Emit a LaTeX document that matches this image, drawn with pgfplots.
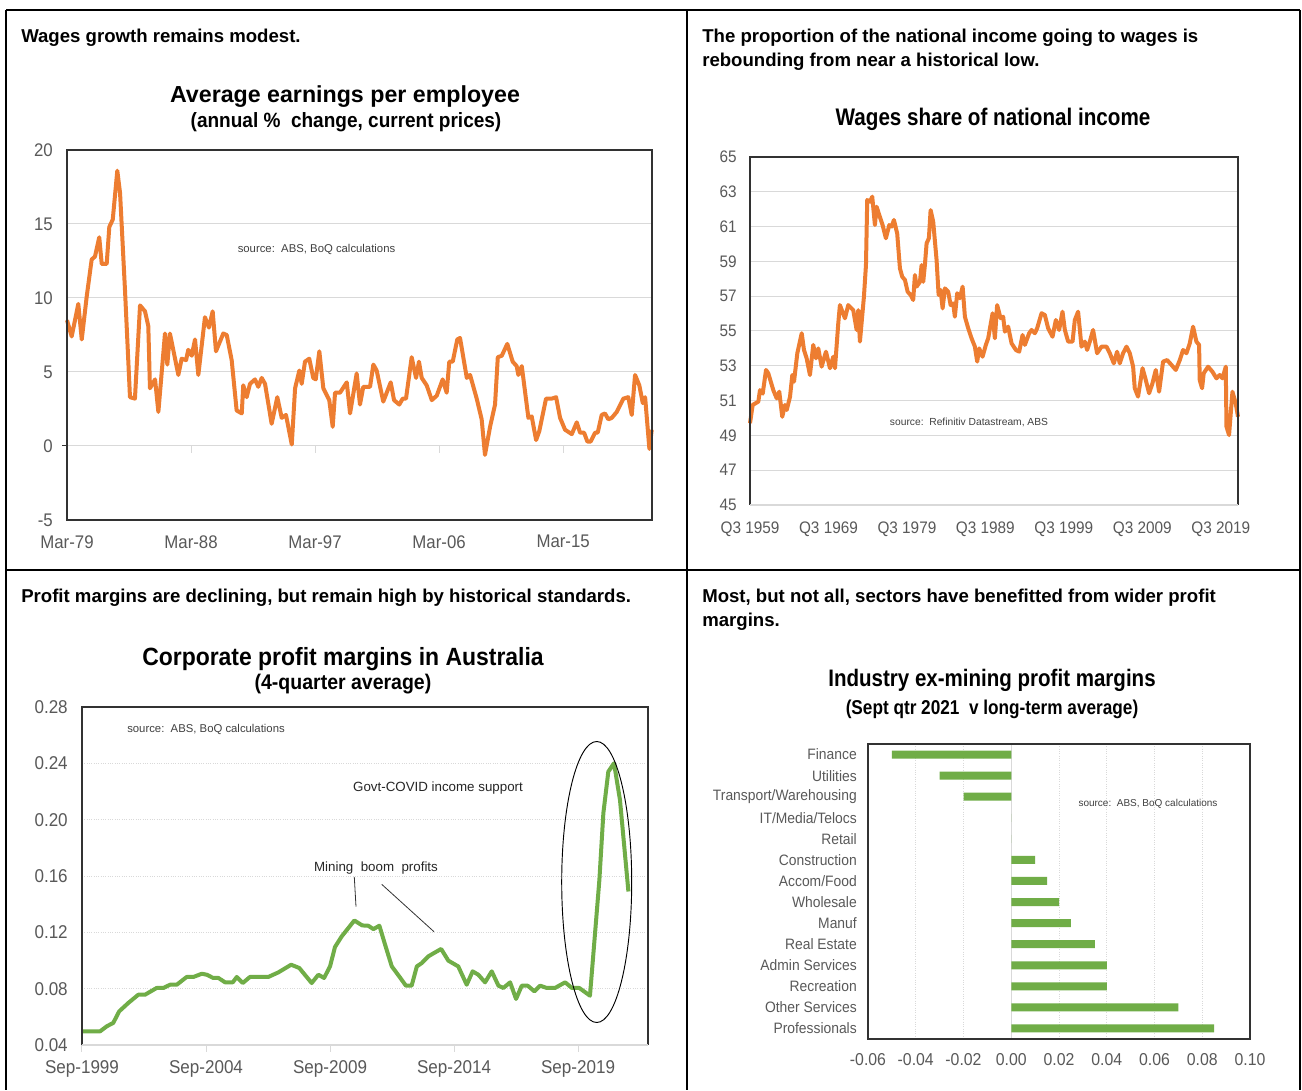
\documentclass[border=0pt]{standalone}
\usepackage{fontspec}
\setmainfont{Liberation Sans}
\newfontfamily\nA[FakeStretch=0.92]{Liberation Sans}
\newfontfamily\nB[FakeStretch=0.86]{Liberation Sans}
\usepackage{pgfplots}
\pgfplotsset{compat=1.18}
\definecolor{lineorange}{RGB}{237,125,49}
\definecolor{barsgreen}{RGB}{112,173,71}
\definecolor{tickgray}{RGB}{89,89,89}
\definecolor{gridgray}{RGB}{217,217,217}
\definecolor{boxdark}{RGB}{50,50,50}
\definecolor{srcgray}{RGB}{64,64,64}

\pgfplotsset{
  cell/.style={scale only axis, anchor=south west, clip=false,
    axis line style={draw=none}, tick style={draw=none},
    tick label style={text=tickgray, inner sep=0pt},
    major grid style={gridgray, line width=0.75pt}},
}

\begin{document}
\begin{tikzpicture}
\useasboundingbox (0,0) rectangle (976.5pt,817.5pt);
\fill[white] (0,0) rectangle (976.5pt,817.5pt);

% ---- top left: average earnings
\begin{axis}[cell, name=p1, at={(50.25pt,427.5pt)}, width=438.75pt, height=277.5pt,
  xmin=1979, xmax=2021.45, ymin=-5, ymax=20,
  xtick={1979,1988,1997,2006,2015}, xticklabels={Mar-79,Mar-88,Mar-97,Mar-06,Mar-15},
  ytick={-5,0,5,10,15,20}, yticklabels={-5,0,5,10,15,20},
  ymajorgrids,
  tick label style={font=\nA\fontsize{13.7}{15}\selectfont},
  xticklabel style={anchor=north, yshift=-11.25pt},
  yticklabel style={anchor=east, xshift=-10.5pt}]
\draw[gridgray, line width=0.75pt] (axis cs:1979,0) -- (axis cs:2021.45,0);
\pgfplotsinvokeforeach{1988,1997,2006,2015}{\draw[gridgray, line width=0.75pt] (axis cs:#1,0) -- ++(0pt,-5pt);}
\draw[boxdark, line width=0.75pt] (axis cs:1979,0) -- ++(-4pt,0pt);
\addplot[lineorange, line width=3pt, line join=round] coordinates {
(1979.0,8.5)(1979.34,7.4)(1979.82,9.6)(1980.07,7.2)(1980.43,10.1)(1980.79,12.6)
(1981.03,12.8)(1981.34,14.1)(1981.52,12.3)(1981.88,12.3)(1982.07,14.8)(1982.32,15.3)
(1982.65,18.6)(1982.85,17.1)(1983.21,10.5)(1983.57,3.3)(1983.93,3.2)(1984.30,9.5)
(1984.66,9.1)(1984.90,8.1)(1985.02,3.9)(1985.39,4.5)(1985.63,2.3)(1986.11,7.6)
(1986.28,5.5)(1986.47,7.6)(1986.71,6.5)(1987.08,4.8)(1987.32,5.9)(1987.64,5.8)
(1987.80,6.5)(1988.05,6.1)(1988.29,7.2)(1988.53,4.8)(1989.01,8.7)(1989.30,8.0)
(1989.57,9.1)(1989.81,6.4)(1990.34,7.6)(1990.59,7.5)(1990.95,5.8)(1991.31,2.4)
(1991.68,2.2)(1991.79,4.1)(1992.04,3.3)(1992.28,4.2)(1992.64,4.5)(1992.88,4.0)
(1993.13,4.6)(1993.37,4.2)(1993.85,1.5)(1994.26,3.3)(1994.58,1.9)(1994.89,2.1)
(1995.31,0.1)(1995.55,3.9)(1995.86,5.1)(1996.03,4.2)(1996.27,5.7)(1996.58,5.9)
(1996.87,4.6)(1997.05,4.5)(1997.31,6.4)(1997.60,3.9)(1998.03,3.1)(1998.28,1.3)
(1998.45,3.6)(1998.81,3.6)(1999.30,4.3)(1999.54,2.2)(2000.02,4.9)(2000.26,2.8)
(2000.50,4.0)(2000.99,4.0)(2001.23,5.5)(2001.47,5.1)(2001.95,3.0)(2002.49,4.3)
(2002.73,3.1)(2003.11,2.8)(2003.36,3.2)(2003.60,3.2)(2004.01,6.0)(2004.33,4.6)
(2004.54,5.7)(2004.74,4.6)(2005.10,4.1)(2005.47,3.1)(2005.83,3.4)(2006.26,4.5)
(2006.55,3.6)(2006.74,5.7)(2006.99,5.7)(2007.32,7.2)(2007.52,7.3)(2008.01,4.6)
(2008.25,4.8)(2008.73,3.2)(2009.09,1.8)(2009.33,-0.6)(2009.70,1.3)(2010.06,2.8)
(2010.26,6.0)(2010.55,6.1)(2010.95,6.9)(2011.34,5.7)(2011.63,5.4)(2011.75,4.8)
(2012.00,5.4)(2012.48,1.9)(2012.72,2.0)(2013.04,0.4)(2013.27,1.0)(2013.76,3.2)
(2014.17,3.2)(2014.49,3.3)(2014.78,1.9)(2015.14,1.1)(2015.63,0.8)(2015.99,1.6)
(2016.23,0.9)(2016.52,0.9)(2016.76,0.3)(2017.00,0.3)(2017.32,0.9)(2017.51,0.9)
(2017.80,2.1)(2018.04,2.2)(2018.28,1.8)(2018.53,1.9)(2018.89,2.3)(2019.37,3.2)
(2019.73,3.3)(2019.98,2.1)(2020.22,4.8)(2020.53,4.1)(2020.78,2.9)(2020.95,3.3)
(2021.26,-0.2)(2021.43,1.1)};
\end{axis}
\draw[boxdark, line width=1.1pt] (p1.south west) rectangle (p1.north east);

% ---- top right: wages share
\begin{axis}[cell, name=p2, at={(562.5pt,438.75pt)}, width=366pt, height=261pt,
  xmin=1959, xmax=2021.2, ymin=45, ymax=65,
  xtick={1959,1969,1979,1989,1999,2009,2019},
  xticklabels={Q3 1959,Q3 1969,Q3 1979,Q3 1989,Q3 1999,Q3 2009,Q3 2019},
  ytick={45,47,49,51,53,55,57,59,61,63,65}, yticklabels={45,47,49,51,53,55,57,59,61,63,65},
  ymajorgrids,
  tick label style={font=\nA\fontsize{12.5}{14}\selectfont},
  xticklabel style={anchor=north, yshift=-12.5pt},
  yticklabel style={anchor=east, xshift=-9.75pt}]
\addplot[lineorange, line width=3pt, line join=round] coordinates {
(1959.0,49.7)(1959.34,50.75)(1960.06,50.94)(1960.27,51.6)(1960.62,51.4)(1961.04,52.76)
(1961.33,52.57)(1961.97,51.6)(1962.40,51.13)(1962.73,51.51)(1963.11,50.07)(1963.46,50.75)
(1963.68,50.46)(1964.10,51.22)(1964.39,52.47)(1964.61,52.09)(1965.03,53.72)(1965.59,54.87)
(1965.88,53.91)(1966.22,53.43)(1966.64,52.47)(1967.06,54.2)(1967.41,53.43)(1967.70,54.0)
(1968.13,52.95)(1968.68,53.81)(1969.19,52.86)(1969.61,53.52)(1969.83,52.86)(1970.25,55.44)
(1970.46,56.49)(1971.10,55.73)(1971.52,56.49)(1972.16,56.2)(1972.59,55.06)(1972.80,56.2)
(1973.01,54.39)(1973.52,56.97)(1973.78,58.79)(1973.94,62.53)(1974.29,62.43)(1974.58,62.72)
(1974.92,61.09)(1975.14,62.14)(1975.47,61.67)(1975.90,61.09)(1976.32,60.33)(1976.75,61.09)
(1977.05,61.0)(1977.34,61.38)(1977.76,60.61)(1978.11,58.6)(1978.40,58.12)(1978.75,57.93)
(1979.09,57.26)(1979.47,57.07)(1979.80,56.78)(1980.02,58.22)(1980.24,57.55)(1980.66,57.83)
(1980.87,58.79)(1981.08,57.83)(1981.29,58.79)(1981.51,60.04)(1981.80,60.33)(1982.02,61.95)
(1982.35,61.28)(1982.78,59.08)(1983.04,57.07)(1983.29,57.36)(1983.55,56.3)(1983.84,57.45)
(1984.26,57.26)(1984.57,56.49)(1984.90,56.59)(1985.11,55.82)(1985.41,57.17)(1985.75,56.88)
(1986.10,57.55)(1986.39,55.82)(1986.81,55.16)(1987.24,54.58)(1987.66,54.1)(1987.96,53.24)
(1988.21,54.0)(1988.64,53.52)(1989.06,54.2)(1989.36,54.58)(1989.92,56.02)(1990.21,54.58)
(1990.50,56.49)(1990.94,55.73)(1991.27,55.82)(1991.48,54.96)(1991.90,55.25)(1992.34,54.29)
(1992.89,53.91)(1993.31,53.81)(1993.74,54.77)(1994.03,54.2)(1994.58,54.87)(1994.89,55.06)
(1995.31,54.87)(1995.60,55.16)(1996.16,56.02)(1996.58,55.92)(1997.0,55.16)(1997.56,54.67)
(1997.98,55.63)(1998.40,55.06)(1998.83,56.11)(1999.13,55.06)(1999.55,54.39)(2000.11,54.39)
(2000.40,55.63)(2000.82,56.11)(2001.25,54.1)(2001.68,54.39)(2001.97,53.91)(2002.31,54.39)
(2002.73,55.06)(2003.24,53.72)(2003.80,54.1)(2004.44,54.1)(2004.86,53.72)(2005.37,53.14)
(2005.79,53.81)(2006.13,53.14)(2006.55,53.72)(2006.99,54.1)(2007.41,53.72)(2007.83,52.95)
(2008.04,51.71)(2008.46,51.23)(2009.03,52.86)(2009.45,52.18)(2009.87,51.42)(2010.30,52.0)
(2010.72,52.76)(2011.14,51.51)(2011.65,53.24)(2012.16,53.33)(2012.72,53.05)(2013.27,52.76)
(2013.78,53.33)(2014.20,53.91)(2014.63,53.72)(2015.05,54.29)(2015.47,55.25)(2015.90,54.39)
(2016.24,54.2)(2016.32,52.18)(2016.62,51.71)(2016.83,52.57)(2017.38,52.95)(2017.94,52.66)
(2018.45,52.28)(2018.87,52.47)(2019.22,52.28)(2019.64,52.95)(2019.73,49.5)(2020.06,49.02)
(2020.49,51.51)(2020.91,50.84)(2021.20,50.07)};
\end{axis}
\draw[boxdark, line width=1.1pt] (p2.south west) -- (p2.north west) -- (p2.north east) -- (p2.south east);
\draw[gridgray, line width=1pt] (p2.south west) -- (p2.south east);

% ---- bottom left: profit margins
\begin{axis}[cell, name=p3, at={(61.5pt,33.75pt)}, width=424.5pt, height=253.5pt,
  xmin=1999, xmax=2021.82, ymin=0.04, ymax=0.28,
  xtick={1999,2004,2009,2014,2019}, xticklabels={Sep-1999,Sep-2004,Sep-2009,Sep-2014,Sep-2019},
  ytick={0.04,0.08,0.12,0.16,0.2,0.24,0.28}, yticklabels={0.04,0.08,0.12,0.16,0.20,0.24,0.28},
  ymajorgrids, major grid style={gridgray, line width=0.75pt, densely dotted},
  tick label style={font=\nA\fontsize{13.9}{15}\selectfont},
  xticklabel style={anchor=north, yshift=-11.25pt},
  yticklabel style={anchor=east, xshift=-10.5pt}]
\pgfplotsinvokeforeach{1999,2004,2009,2014,2019}{\draw[gridgray, line width=0.75pt] (axis cs:#1,0.04) -- ++(0pt,-5pt);}
\addplot[barsgreen, line width=3pt, line join=round] coordinates {
(1999.0,0.0497)(1999.73,0.0497)(2000.0,0.0533)(2000.26,0.0557)(2000.50,0.0639)(2000.87,0.0699)
(2001.27,0.0757)(2001.54,0.0757)(2002.01,0.0805)(2002.28,0.0805)(2002.55,0.0828)(2002.82,0.0828)
(2003.22,0.0883)(2003.49,0.0883)(2003.83,0.0906)(2004.03,0.0899)(2004.29,0.0876)(2004.50,0.0876)
(2004.77,0.0845)(2005.08,0.0845)(2005.24,0.0883)(2005.48,0.0840)(2005.77,0.0883)(2006.51,0.0883)
(2006.92,0.0916)(2007.43,0.0970)(2007.76,0.0947)(2008.26,0.0840)(2008.53,0.0899)(2008.76,0.0876)
(2009.0,0.0958)(2009.20,0.1096)(2009.47,0.1171)(2009.98,0.1284)(2010.30,0.1249)(2010.54,0.1247)
(2010.75,0.1223)(2010.99,0.1247)(2011.22,0.1112)(2011.49,0.0958)(2011.79,0.0887)(2012.06,0.0821)
(2012.29,0.0821)(2012.50,0.0958)(2012.70,0.0982)(2012.96,0.1029)(2013.19,0.1053)(2013.48,0.1082)
(2013.77,0.0999)(2014.17,0.0958)(2014.51,0.0828)(2014.75,0.0923)(2014.98,0.0899)(2015.25,0.0845)
(2015.52,0.0923)(2015.79,0.0821)(2015.99,0.0805)(2016.26,0.0845)(2016.50,0.0727)(2016.73,0.0821)
(2016.97,0.0821)(2017.24,0.0781)(2017.47,0.0821)(2017.74,0.0805)(2018.07,0.0805)(2018.48,0.0845)
(2018.75,0.0805)(2019.05,0.0805)(2019.48,0.0750)(2019.86,0.1573)(2020.02,0.2046)(2020.22,0.2341)
(2020.45,0.2401)(2020.69,0.2140)(2021.03,0.1490)};
\end{axis}
\draw[boxdark, line width=1.1pt] (p3.south west) -- (p3.north west) -- (p3.north east) -- (p3.south east);
\draw[gridgray, line width=1pt] (p3.south west) -- (p3.south east);

% ---- bottom right: industry margins
\begin{axis}[cell, name=p4, at={(651pt,38.25pt)}, width=286.5pt, height=221.25pt,
  xmin=-0.06, xmax=0.1, ymin=-0.5, ymax=13.5, y dir=reverse,
  xtick={-0.06,-0.04,-0.02,0,0.02,0.04,0.06,0.08,0.1},
  xticklabels={-0.06,-0.04,-0.02,0.00,0.02,0.04,0.06,0.08,0.10},
  ytick={0,...,13},
  yticklabels={Finance,Utilities,Transport/Warehousing,IT/Media/Telocs,Retail,Construction,Accom/Food,Wholesale,Manuf,Real Estate,Admin Services,Recreation,Other Services,Professionals},
  xmajorgrids, major grid style={gridgray, line width=0.75pt, densely dotted},
  xticklabel style={font=\nA\fontsize{12.9}{14}\selectfont, anchor=north, yshift=-10.5pt},
  yticklabel style={font=\nA\fontsize{11.3}{13}\selectfont, anchor=east, xshift=-8.25pt}]
\draw[gridgray, line width=0.9pt] (axis cs:0,-0.5) -- (axis cs:0,13.5);
\addplot[xbar, bar width=6pt, fill=barsgreen, draw=none] coordinates {
(-0.05,0)(-0.03,1)(-0.02,2)(0,3)(0,4)(0.01,5)(0.015,6)(0.02,7)(0.025,8)
(0.035,9)(0.04,10)(0.04,11)(0.07,12)(0.085,13)};
\end{axis}
\draw[boxdark, line width=1.1pt] (p4.south west) rectangle (p4.north east);

% ---- text and frame, in pixel units of the reference
\begin{scope}[x=0.75pt, y=-0.75pt, yshift=817.5pt]
\draw[black, line width=1.5pt] (6,10) -- (1300,10) (6,10) -- (6,1090) (1300,10) -- (1300,1090)
  (687,10) -- (687,1090) (6,570) -- (1300,570);
\tikzset{head/.style={anchor=base west, inner sep=0pt, font=\bfseries\fontsize{13.95}{16}\selectfont}}
\node[head] at (21,43) {Wages growth remains modest.};
\node[head] at (702,43) {The proportion of the national income going to wages is};
\node[head] at (702,67) {rebounding from near a historical low.};
\node[head] at (21,602) {Profit margins are declining, but remain high by historical standards.};
\node[head] at (702,602) {Most, but not all, sectors have benefitted from wider profit};
\node[head] at (702,626) {margins.};
\tikzset{ttl/.style={anchor=base, inner sep=0pt}}
\node[ttl, font=\bfseries\fontsize{17.4}{20}\selectfont] at (345,103) {Average earnings per employee};
\node[ttl, font=\nA\bfseries\fontsize{15.5}{18}\selectfont] at (346,128) {(annual \%\ \ change, current prices)};
\node[ttl, font=\nB\bfseries\fontsize{18}{20}\selectfont] at (993,126) {Wages share of national income};
\node[ttl, font=\nA\bfseries\fontsize{18.7}{20}\selectfont] at (343,665) {Corporate profit margins in Australia};
\node[ttl, font=\nA\bfseries\fontsize{15.9}{18}\selectfont] at (343,689) {(4-quarter average)};
\node[ttl, font=\nB\bfseries\fontsize{17.9}{20}\selectfont] at (992,686) {Industry ex-mining profit margins};
\node[ttl, font=\nB\bfseries\fontsize{15}{18}\selectfont] at (992,714) {(Sept qtr 2021\ \ v long-term average)};
\tikzset{src/.style={inner sep=0pt, text=srcgray}}
\node[src, font=\fontsize{8.5}{10}\selectfont] at (316.5,249) {source:\ \ ABS, BoQ calculations};
\node[src, font=\fontsize{7.7}{9}\selectfont] at (969,422) {source:\ \ Refinitiv Datastream, ABS};
\node[src, font=\fontsize{8.5}{10}\selectfont] at (206,729) {source:\ \ ABS, BoQ calculations};
\node[src, font=\fontsize{7.5}{9}\selectfont] at (1148,804) {source:\ \ ABS, BoQ calculations};
\fill[white] (302,861) rectangle (462,875);
\node[inner sep=0pt, text=black!85, font=\fontsize{10}{12}\selectfont] at (376,868) {Mining\ \ boom\ \ profits};
\node[inner sep=0pt, text=black!85, font=\fontsize{10}{12}\selectfont] at (438,788) {Govt-COVID income support};
\draw[black!80, line width=0.6pt] (354.3,877) -- (356,906.7) (381.7,884.3) -- (434,931.7);
\draw[black, line width=0.7pt] (596.7,882) ellipse [x radius=35, y radius=140.5];
\end{scope}
\end{tikzpicture}
\end{document}
